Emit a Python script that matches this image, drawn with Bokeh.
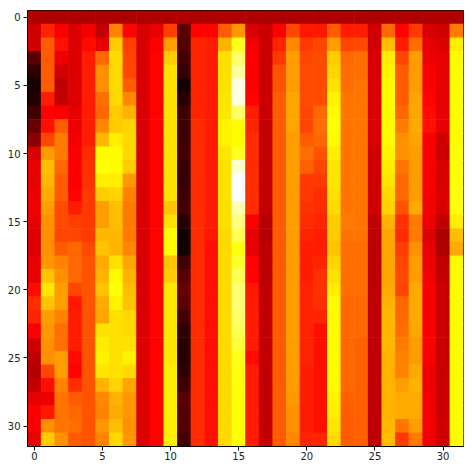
from bokeh.plotting import figure
from bokeh.models import LinearColorMapper, FixedTicker, Range1d, ColumnDataSource
from bokeh.transform import transform
from bokeh.embed import file_html
from bokeh.resources import INLINE

col_00 = [.25,.30,.30,.13,.07,.04,.05,.09,.15,.20,.31,.33,.33,.34,.34,.33,.32,.32,.33,.33,.38,.43,.42,.36,.30,.27,.26,.28,.33,.36,.36,.33]
col_01 = [.25,.42,.50,.50,.50,.50,.41,.37,.39,.47,.60,.65,.64,.62,.60,.58,.58,.58,.59,.66,.71,.66,.60,.59,.58,.58,.47,.39,.34,.40,.58,.67]
col_02 = [.25,.36,.39,.34,.30,.27,.28,.36,.50,.55,.55,.52,.50,.50,.48,.48,.47,.50,.56,.58,.60,.60,.56,.53,.53,.60,.60,.56,.54,.54,.54,.58]
col_03 = [.25,.31,.32,.32,.32,.32,.32,.33,.34,.35,.36,.36,.36,.37,.41,.46,.47,.52,.52,.52,.47,.40,.41,.41,.41,.38,.37,.43,.50,.52,.53,.50]
col_04 = [.25,.35,.38,.41,.41,.41,.41,.41,.41,.41,.43,.44,.44,.45,.45,.45,.45,.48,.49,.49,.49,.49,.49,.49,.49,.49,.49,.49,.49,.49,.49,.49]
col_05 = [.25,.28,.33,.52,.58,.58,.53,.52,.57,.64,.74,.75,.72,.67,.60,.60,.64,.66,.62,.63,.66,.62,.61,.70,.72,.73,.71,.63,.57,.56,.59,.56]
col_06 = [.25,.56,.67,.69,.69,.69,.69,.67,.67,.72,.74,.74,.72,.68,.65,.65,.64,.63,.70,.74,.75,.73,.70,.70,.70,.70,.70,.68,.63,.62,.65,.69]
col_07 = [.25,.37,.46,.47,.47,.50,.57,.63,.68,.69,.69,.67,.59,.56,.55,.55,.55,.57,.61,.63,.65,.66,.69,.69,.70,.73,.69,.61,.59,.59,.58,.59]
col_08 = [.25,.31,.31,.31,.31,.31,.31,.31,.31,.31,.31,.31,.31,.31,.31,.31,.31,.31,.31,.31,.31,.31,.32,.32,.32,.32,.32,.32,.32,.32,.32,.32]
col_09 = [.25,.33,.36,.37,.37,.37,.37,.37,.37,.37,.37,.37,.37,.37,.37,.37,.37,.37,.37,.37,.37,.37,.37,.37,.37,.37,.37,.37,.37,.37,.37,.37]
col_10 = [.25,.46,.60,.67,.70,.70,.70,.70,.70,.70,.70,.70,.70,.70,.66,.70,.74,.74,.66,.67,.71,.71,.71,.71,.71,.71,.72,.72,.72,.72,.72,.72]
col_11 = [.25,.13,.12,.10,.08,.03,.06,.09,.09,.09,.10,.08,.08,.09,.10,.06,.03,.03,.09,.13,.15,.14,.10,.07,.06,.06,.07,.09,.13,.12,.12,.10]
col_12 = [.25,.37,.42,.42,.42,.42,.42,.42,.43,.43,.43,.43,.43,.43,.43,.43,.43,.43,.43,.43,.43,.43,.43,.43,.43,.43,.43,.43,.43,.43,.43,.43]
col_13 = [.25,.37,.41,.41,.41,.41,.41,.41,.41,.41,.41,.41,.41,.41,.41,.41,.40,.39,.39,.39,.39,.39,.39,.39,.39,.39,.39,.39,.39,.39,.39,.39]
col_14 = [.25,.50,.63,.70,.70,.70,.71,.71,.73,.73,.71,.70,.70,.70,.70,.70,.69,.69,.69,.69,.69,.69,.69,.69,.69,.69,.69,.69,.69,.69,.69,.69]
col_15 = [.25,.59,.77,.85,.90,.97,.97,.85,.74,.74,.78,.95,1.0,1.0,.92,.87,.83,.76,.79,.83,.86,.86,.85,.83,.80,.77,.76,.76,.75,.75,.75,.75]
col_16 = [.25,.31,.35,.36,.36,.36,.37,.41,.42,.43,.43,.43,.43,.43,.43,.36,.33,.33,.37,.37,.40,.41,.41,.41,.41,.38,.41,.41,.41,.41,.41,.41]
col_17 = [.25,.29,.29,.29,.29,.29,.29,.29,.28,.28,.28,.28,.28,.28,.28,.26,.26,.27,.27,.27,.28,.28,.28,.28,.28,.28,.28,.28,.28,.28,.28,.28]
col_18 = [.25,.36,.42,.45,.49,.49,.50,.50,.50,.50,.50,.50,.50,.50,.50,.50,.50,.50,.50,.50,.50,.50,.50,.50,.50,.50,.50,.50,.50,.50,.50,.50]
col_19 = [.25,.47,.57,.60,.60,.60,.61,.61,.61,.60,.60,.60,.60,.60,.60,.60,.60,.60,.60,.60,.60,.60,.60,.60,.60,.60,.60,.60,.59,.58,.58,.57]
col_20 = [.25,.40,.45,.47,.48,.48,.48,.47,.47,.50,.53,.51,.45,.45,.44,.43,.42,.41,.41,.41,.42,.42,.42,.42,.42,.42,.41,.41,.41,.41,.41,.42]
col_21 = [.25,.40,.47,.48,.48,.48,.48,.52,.53,.52,.49,.47,.45,.43,.43,.42,.41,.41,.42,.44,.44,.44,.42,.39,.39,.39,.39,.39,.39,.39,.39,.42]
col_22 = [.25,.50,.60,.67,.68,.70,.73,.74,.75,.74,.72,.71,.71,.70,.69,.67,.67,.66,.68,.70,.72,.74,.74,.74,.74,.74,.74,.74,.73,.72,.71,.69]
col_23 = [.25,.41,.47,.52,.53,.53,.54,.54,.54,.54,.54,.54,.54,.54,.54,.55,.54,.53,.53,.53,.53,.52,.52,.52,.52,.52,.52,.52,.51,.50,.50,.50]
col_24 = [.25,.41,.48,.53,.53,.54,.54,.54,.54,.54,.54,.54,.54,.54,.54,.54,.54,.53,.53,.53,.53,.52,.52,.52,.51,.51,.51,.51,.51,.51,.51,.51]
col_25 = [.25,.30,.30,.31,.31,.31,.31,.31,.31,.31,.30,.30,.30,.30,.30,.28,.27,.27,.27,.27,.27,.27,.27,.27,.27,.27,.27,.27,.27,.27,.27,.27]
col_26 = [.25,.52,.65,.72,.73,.74,.74,.74,.74,.74,.73,.72,.71,.69,.68,.63,.61,.61,.61,.61,.62,.63,.64,.64,.64,.63,.63,.63,.63,.63,.64,.65]
col_27 = [.25,.37,.41,.47,.50,.50,.50,.52,.55,.58,.58,.54,.52,.52,.49,.44,.43,.46,.47,.48,.47,.52,.52,.53,.55,.56,.56,.60,.62,.62,.54,.45]
col_28 = [.25,.45,.53,.60,.60,.60,.61,.61,.62,.61,.60,.60,.60,.60,.62,.55,.55,.58,.60,.60,.62,.62,.62,.61,.60,.60,.62,.63,.62,.62,.60,.55]
col_29 = [.25,.31,.33,.34,.36,.36,.37,.38,.39,.36,.36,.36,.36,.35,.35,.34,.32,.33,.34,.35,.36,.36,.36,.36,.36,.36,.34,.34,.35,.35,.35,.35]
col_30 = [.25,.30,.32,.33,.33,.33,.33,.33,.33,.30,.29,.31,.31,.32,.31,.28,.25,.25,.27,.28,.29,.29,.29,.29,.29,.29,.29,.29,.29,.29,.30,.30]
col_31 = [.25,.55,.72,.74,.74,.74,.74,.74,.74,.74,.75,.75,.75,.76,.76,.72,.65,.62,.74,.74,.74,.74,.74,.74,.74,.74,.74,.74,.74,.74,.74,.74]

columns = [col_00,col_01,col_02,col_03,col_04,col_05,col_06,col_07,col_08,col_09,col_10,col_11,
           col_12,col_13,col_14,col_15,col_16,col_17,col_18,col_19,col_20,col_21,col_22,col_23,
           col_24,col_25,col_26,col_27,col_28,col_29,col_30,col_31]
tick_values = [0, 5, 10, 15, 20, 25, 30]

def hot_color(t):
    r = min(1.0, t / 0.365079)
    g = min(1.0, max(0.0, (t - 0.365079) / (0.746032 - 0.365079)))
    b = min(1.0, max(0.0, (t - 0.746032) / (1 - 0.746032)))
    r = max(r, 0.0416)
    return "#%02x%02x%02x" % (int(r * 255), int(g * 255), int(b * 255))

hot = [hot_color(i / 255) for i in range(256)]
mapper = LinearColorMapper(palette=hot, low=0, high=1)

xs, ys, vals = [], [], []
for cx, column in enumerate(columns):
    for cy, v in enumerate(column):
        xs.append(cx)
        ys.append(cy)
        vals.append(v)
source = ColumnDataSource(dict(x=xs, y=ys, v=vals))

p = figure(width=464, height=464, output_backend="svg", toolbar_location=None,
           x_range=Range1d(-0.5, 31.5), y_range=Range1d(31.5, -0.5),
           min_border_left=27, min_border_right=1, min_border_top=10, min_border_bottom=18,
           background_fill_color="white", border_fill_color="white")

# Slightly oversized cells so neighbouring edges do not show hairline seams.
p.rect(x="x", y="y", width=1.04, height=1.04, source=source,
       fill_color=transform("v", mapper), line_color=None)

p.grid.visible = False
p.outline_line_color = "black"
p.outline_line_width = 1
for ax in (p.xaxis[0], p.yaxis[0]):
    ax.ticker = FixedTicker(ticks=tick_values)
    ax.major_tick_in = 0
    ax.major_tick_out = 4
    ax.minor_tick_in = 0
    ax.minor_tick_out = 0
    ax.major_label_text_font = "DejaVu Sans"
    ax.major_label_text_font_size = "10px"
    ax.major_label_text_color = "#222222"
    ax.axis_line_color = "black"
    ax.major_tick_line_color = "black"
p.xaxis[0].major_label_standoff = 1
p.yaxis[0].major_label_standoff = 3

open("out.html", "w").write(file_html(p, INLINE))
